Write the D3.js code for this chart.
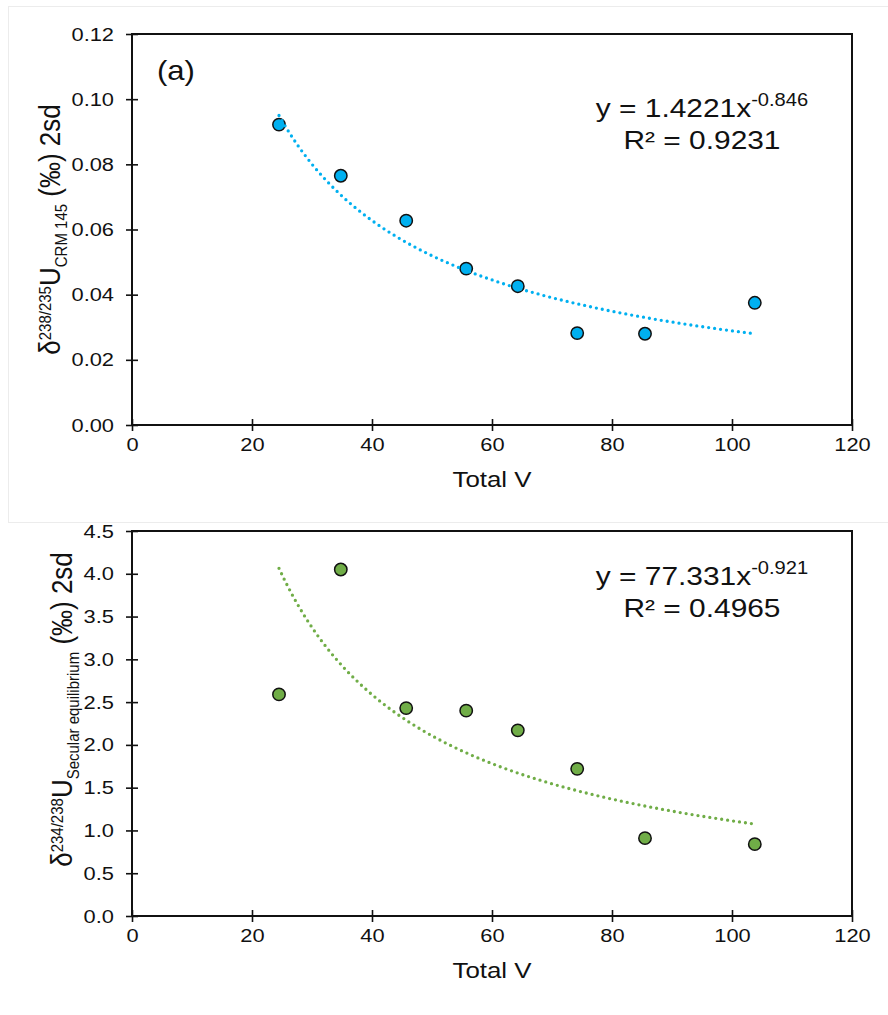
<!DOCTYPE html>
<html>
<head>
<meta charset="utf-8">
<script src="https://cdn.jsdelivr.net/npm/d3@7"></script>
<style>
  html, body { margin: 0; padding: 0; background: #fff; }
  svg { display: block; font-family: Helvetica, Arial, "Liberation Sans", sans-serif; }
</style>
</head>
<body>
<svg id="chart" width="888" height="1015"></svg>
<script>
// Total beam intensity (V) for each measurement session
const totalV = [24.5, 34.8, 45.7, 55.7, 64.3, 74.2, 85.5, 103.8];
// 2sd reproducibility of δ238/235U (‰)
const d238sd = [0.0922, 0.0765, 0.0627, 0.0480, 0.0426, 0.0282, 0.0280, 0.0375];
// 2sd reproducibility of δ234/238U (‰)
const d234sd = [2.59, 4.05, 2.43, 2.40, 2.17, 1.72, 0.91, 0.84];
// Power-law fits y = a·x^b
const fit238 = [1.4221, -0.846];
const fit234 = [77.331, -0.921];
const r2_238 = "0.9231";
const r2_234 = "0.4965";
// Axis ticks
const xTicks = [0, 20, 40, 60, 80, 100, 120];
const yTicks238 = [0, 0.02, 0.04, 0.06, 0.08, 0.10, 0.12];
const yTicks234 = [0, 0.5, 1.0, 1.5, 2.0, 2.5, 3.0, 3.5, 4.0, 4.5];

// the lettering is drawn slightly widened
const SX = 1.15;
function widen(sel) {
  sel.each(function () {
    const t = d3.select(this);
    const x = +t.attr("x") || 0, y = +t.attr("y") || 0;
    t.attr("x", 0).attr("y", 0)
     .attr("transform", `translate(${x},${y}) scale(${SX},1)`);
  });
}

const svg = d3.select("#chart");

// faint frame around the upper panel
svg.append("rect")
  .attr("x", 8.5).attr("y", 6.5).attr("width", 900).attr("height", 516)
  .attr("fill", "none").attr("stroke", "#ececec").attr("stroke-width", 1);

function panel(opt) {
  const left = 132, right = 852;
  const x = d3.scaleLinear().domain([0, 120]).range([left, right]);
  const y = d3.scaleLinear().domain(opt.yDomain).range([opt.bottom, opt.top]);
  const g = svg.append("g");

  // plot frame
  g.append("rect")
    .attr("x", left).attr("y", opt.top)
    .attr("width", right - left).attr("height", opt.bottom - opt.top)
    .attr("fill", "none").attr("stroke", "#111").attr("stroke-width", 2);

  const yAxis = g.append("g")
    .attr("transform", `translate(${left},0)`)
    .call(d3.axisLeft(y).tickValues(opt.yTicks).tickFormat(opt.yFmt)
      .tickSizeInner(6).tickSizeOuter(0).tickPadding(12));
  yAxis.select(".domain").remove();
  yAxis.selectAll(".tick line").attr("x1", 6).attr("stroke", "#111").attr("stroke-width", 1.6);
  yAxis.selectAll(".tick text").attr("font-size", 19).attr("fill", "#111")
    .attr("font-family", "Helvetica, Arial, 'Liberation Sans', sans-serif")
    .call(widen);

  const xAxis = g.append("g")
    .attr("transform", `translate(0,${opt.bottom})`)
    .call(d3.axisBottom(x).tickValues(xTicks).tickFormat(d3.format("d"))
      .tickSizeInner(6).tickSizeOuter(0).tickPadding(7));
  xAxis.select(".domain").remove();
  xAxis.selectAll(".tick line").attr("y1", -6).attr("stroke", "#111").attr("stroke-width", 1.6);
  xAxis.selectAll(".tick text").attr("font-size", 19).attr("fill", "#111")
    .attr("font-family", "Helvetica, Arial, 'Liberation Sans', sans-serif")
    .call(widen);

  // axis titles
  g.append("text")
    .attr("x", (left + right) / 2).attr("y", opt.bottom + 62)
    .attr("text-anchor", "middle").attr("font-size", 22.5).attr("fill", "#111")
    .text("Total V")
    .call(widen);

  const yt = g.append("text")
    .attr("transform", `translate(${opt.labelX},${(opt.top + opt.bottom) / 2 + opt.labelDy}) scale(${SX},1) rotate(-90)`)
    .attr("text-anchor", "middle").attr("font-size", 26).attr("fill", "#111");
  yt.append("tspan").text("δ");
  yt.append("tspan").attr("font-size", 15).attr("dy", -8).text(opt.sup);
  yt.append("tspan").attr("dy", 8).text("U");
  yt.append("tspan").attr("font-size", 15).attr("dy", 6).text(opt.sub);
  yt.append("tspan").attr("dy", -6).text(" (‰) 2sd");

  // data points
  g.append("g").selectAll("circle")
    .data(totalV.map((v, i) => [v, opt.values[i]]))
    .join("circle")
    .attr("cx", d => x(d[0])).attr("cy", d => y(d[1])).attr("r", 6.2)
    .attr("fill", opt.color).attr("stroke", "#111").attr("stroke-width", 1.5);

  // power-law trendline across the measured range
  const [a, b] = opt.fit;
  const x0 = d3.min(totalV), x1 = d3.max(totalV);
  const curve = d3.range(0, 101).map(i => {
    const xv = x0 + (x1 - x0) * i / 100;
    return [xv, a * Math.pow(xv, b)];
  });
  g.append("path")
    .attr("d", d3.line().x(d => x(d[0])).y(d => y(d[1]))(curve))
    .attr("fill", "none").attr("stroke", opt.color).attr("stroke-width", 3.3)
    .attr("stroke-linecap", "round").attr("stroke-dasharray", "0 6");

  // equation
  const eq = g.append("text")
    .attr("x", 702).attr("y", opt.top + opt.eqY)
    .attr("text-anchor", "middle").attr("font-size", 26).attr("fill", "#111");
  eq.append("tspan").text(`y = ${a}x`);
  eq.append("tspan").attr("font-size", 17.5).attr("dy", -11).text(String(b));
  eq.call(widen);
  g.append("text")
    .attr("x", 702).attr("y", opt.top + opt.eqY + 32)
    .attr("text-anchor", "middle").attr("font-size", 26).attr("fill", "#111")
    .text(`R² = ${opt.r2}`)
    .call(widen);

  if (opt.tag) {
    g.append("text").attr("x", 157).attr("y", opt.top + 46)
      .attr("font-size", 27).attr("fill", "#111").text(opt.tag)
      .call(widen);
  }
}

panel({
  top: 34, bottom: 425, yDomain: [0, 0.12], yTicks: yTicks238, yFmt: d3.format(".2f"),
  values: d238sd, fit: fit238, r2: r2_238, color: "#00B0F0",
  sup: "238/235", sub: "CRM 145", tag: "(a)", labelX: 60, labelDy: 0, eqY: 83
});

panel({
  top: 531, bottom: 916, yDomain: [0, 4.5], yTicks: yTicks234, yFmt: d3.format(".1f"),
  values: d234sd, fit: fit234, r2: r2_234, color: "#70AD47",
  sup: "234/238", sub: "Secular equilibrium", tag: null, labelX: 72, labelDy: -14, eqY: 54
});
</script>
</body>
</html>
